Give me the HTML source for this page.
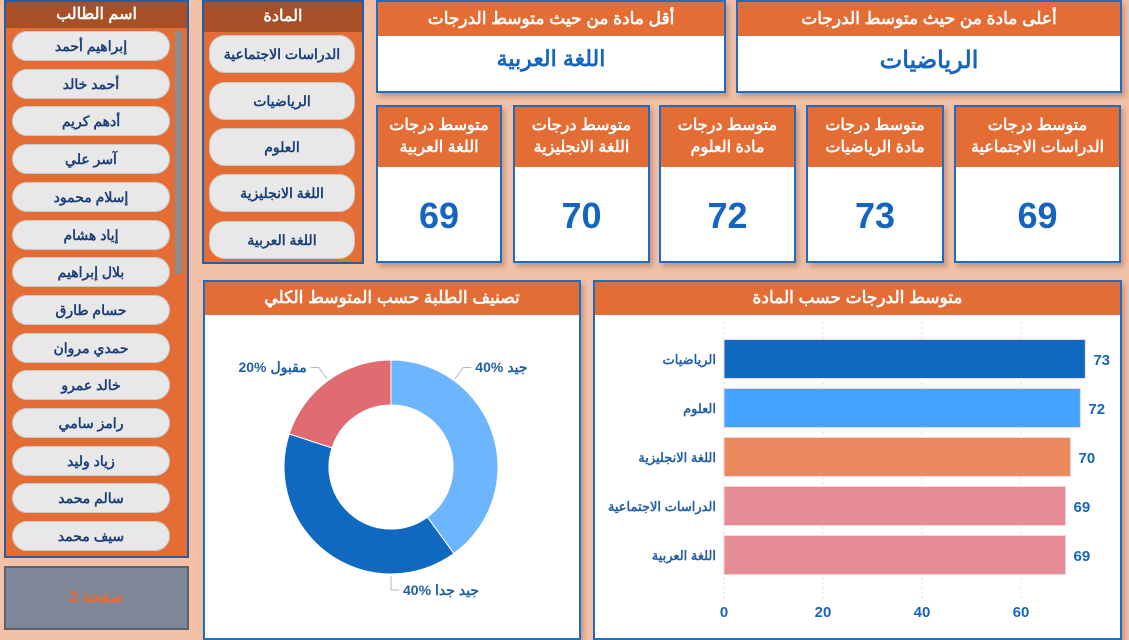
<!DOCTYPE html>
<html><head><meta charset="utf-8"><style>
*{box-sizing:border-box;margin:0;padding:0}
body{width:1129px;height:630px;overflow:hidden;background:#f3c1a8;font-family:"Liberation Sans","Noto Sans CJK SC",sans-serif;position:relative}
.abs{position:absolute}
.panel{position:absolute;background:#e46c35;border:2px solid #1f5fa8}
.hdr{position:absolute;left:0;right:0;top:0;background:#a94f27;color:#fff;font-weight:bold;font-size:16px;text-align:center}
.pill{position:absolute;background:#e8e8e8;border:1px solid #c9c9c9;border-radius:16px;color:#1b3f78;font-weight:bold;font-size:14px;text-align:center;direction:rtl}
.card{position:absolute;background:#fff;border:2px solid #1a6fc4;box-shadow:3px 4px 5px rgba(120,70,50,.35)}
.ch{position:absolute;left:0;right:0;top:0;background:#e46c35;color:#fff;font-weight:bold;text-align:center;direction:rtl}
.num{position:absolute;left:0;right:0;text-align:center;color:#1565c0;font-weight:bold;font-size:36px}
.dl{position:absolute;display:flex;direction:ltr;gap:4px;font-size:14px;font-weight:bold;color:#1f5fa8;white-space:nowrap;line-height:18px}
</style></head><body>

<div class="panel" style="left:4px;top:0;width:185px;height:558px">
 <div class="hdr" style="height:26px;line-height:26px">اسم الطالب</div>
 <div class="abs" style="left:169px;top:29px;width:7px;height:243px;background:#8d8d8d"></div>
 <div id="names"></div>
</div>

<div class="abs" style="left:4px;top:566px;width:185px;height:64px;background:#7f8698;border:2px solid #5c6270;color:#e46c35;font-weight:bold;font-size:16px;text-align:center;line-height:60px">صفحة 2</div>

<div class="panel" style="left:202px;top:0;width:162px;height:264px">
 <div class="hdr" style="height:30px;line-height:30px">المادة</div>
 <div class="pill" style="left:5px;top:33px;width:146px;height:38px;line-height:36px">الدراسات الاجتماعية</div>
 <div class="pill" style="left:5px;top:80px;width:146px;height:38px;line-height:36px">الرياضيات</div>
 <div class="pill" style="left:5px;top:126px;width:146px;height:38px;line-height:36px">العلوم</div>
 <div class="pill" style="left:5px;top:172px;width:146px;height:38px;line-height:36px">اللغة الانجليزية</div>
 <div class="pill" style="left:5px;top:219px;width:146px;height:38px;line-height:36px">اللغة العربية</div>
</div>

<div class="card" style="left:376px;top:0;width:350px;height:93px">
 <div class="ch" style="height:34px;line-height:34px;font-size:17px">أقل مادة من حيث متوسط الدرجات</div>
 <div class="num" style="top:44px;font-size:22px">اللغة العربية</div>
</div>
<div class="card" style="left:736px;top:0;width:386px;height:93px">
 <div class="ch" style="height:34px;line-height:34px;font-size:17px">أعلى مادة من حيث متوسط الدرجات</div>
 <div class="num" style="top:44px;font-size:24px">الرياضيات</div>
</div>

<div class="card" style="left:376px;top:105px;width:126px;height:158px"><div class="ch" style="height:60px;font-size:16px;padding-top:8px;line-height:22px">متوسط درجات<br>اللغة العربية</div><div class="num" style="top:88px">69</div></div>
<div class="card" style="left:513px;top:105px;width:137px;height:158px"><div class="ch" style="height:60px;font-size:16px;padding-top:8px;line-height:22px">متوسط درجات<br>اللغة الانجليزية</div><div class="num" style="top:88px">70</div></div>
<div class="card" style="left:659px;top:105px;width:137px;height:158px"><div class="ch" style="height:60px;font-size:16px;padding-top:8px;line-height:22px">متوسط درجات<br>مادة العلوم</div><div class="num" style="top:88px">72</div></div>
<div class="card" style="left:806px;top:105px;width:138px;height:158px"><div class="ch" style="height:60px;font-size:16px;padding-top:8px;line-height:22px">متوسط درجات<br>مادة الرياضيات</div><div class="num" style="top:88px">73</div></div>
<div class="card" style="left:954px;top:105px;width:167px;height:158px"><div class="ch" style="height:60px;font-size:16px;padding-top:8px;line-height:22px">متوسط درجات<br>الدراسات الاجتماعية</div><div class="num" style="top:88px">69</div></div>

<div class="card" style="left:203px;top:280px;width:378px;height:360px">
 <div class="ch" style="height:33px;line-height:32px;font-size:17px">تصنيف الطلبة حسب المتوسط الكلي</div>
</div>
<div class="card" style="left:593px;top:280px;width:529px;height:360px">
 <div class="ch" style="height:33px;line-height:32px;font-size:17px">متوسط الدرجات حسب المادة</div>
</div>

<svg class="abs" id="chart" style="left:0;top:0" width="1129" height="630"></svg>

<script>
const names=["إبراهيم أحمد","أحمد خالد","أدهم كريم","آسر علي","إسلام محمود","إياد هشام","بلال إبراهيم","حسام طارق","حمدي مروان","خالد عمرو","رامز سامي","زياد وليد","سالم محمد","سيف محمد"];
const nb=document.getElementById('names');
names.forEach((n,i)=>{const d=document.createElement('div');d.className='pill';


d.style.cssText=`left:6px;top:${29+i*37.7}px;width:158px;height:30px;line-height:28px`;d.textContent=n;nb.appendChild(d);});

const NS='http://www.w3.org/2000/svg';const svg=document.getElementById('chart');
function el(t,a,txt){const e=document.createElementNS(NS,t);for(const k in a)e.setAttribute(k,a[k]);if(txt!=null)e.textContent=txt;svg.appendChild(e);return e;}

// Bar chart data
const barCats=["الرياضيات","العلوم","اللغة الانجليزية","الدراسات الاجتماعية","اللغة العربية"];
const barVals=[73,72,70,69,69];
const barColors=["#0f69c0","#42a4ff","#eb8a5e","#e58c94","#e58c94"];
const xTicks=[0,20,40,60];
const xs=v=>724+v*4.95;
const ys=i=>359+i*49;
xTicks.forEach(t=>{const g=el('line',{x1:xs(t),x2:xs(t),y1:322,y2:600,stroke:'#ddd','stroke-dasharray':'2,3'});
const l=el('text',{x:xs(t),y:617,'text-anchor':'middle','font-size':15,'font-weight':'bold',fill:'#1565c0'},t);});
barVals.forEach((v,i)=>{const r=el('rect',{x:xs(0),y:ys(i)-19.5,width:xs(v)-xs(0),height:39,fill:barColors[i],stroke:'#f3d6d6','stroke-width':1});


const t=el('text',{x:xs(v)+8,y:ys(i)+6,'font-size':15,'font-weight':'bold',fill:'#1565c0'},v);
const c=el('text',{x:716,y:ys(i)+5,'text-anchor':'end','font-size':13,'font-weight':'bold',fill:'#1f5fa8'},barCats[i]);});

// Donut data
const pieLabels=["جيد","جيد جدا","مقبول"];
const pieVals=[40,40,20];
const pieColors=["#6cb6ff","#0f69c0","#e06c72"];
const labelFrac=[0.25,0.25,0.5];
const cx=391,cy=467,R=107,r0=62;
let acc=0;const tot=pieVals.reduce((a,b)=>a+b,0);
const pt=(a,rr)=>[cx+rr*Math.sin(a),cy-rr*Math.cos(a)];
pieVals.forEach((v,i)=>{const a0=acc/tot*2*Math.PI;acc+=v;const a1=acc/tot*2*Math.PI;const lg=a1-a0>Math.PI?1:0;
const [x1,y1]=pt(a0,R),[x2,y2]=pt(a1,R),[x3,y3]=pt(a1,r0),[x4,y4]=pt(a0,r0);
const p=el('path',{d:`M${x1},${y1}A${R},${R} 0 ${lg} 1 ${x2},${y2}L${x3},${y3}A${r0},${r0} 0 ${lg} 0 ${x4},${y4}Z`,fill:pieColors[i],stroke:'#fff','stroke-width':1});


const am=a0+(a1-a0)*labelFrac[i];const [lx,ly]=pt(am,R+2);const [ex,ey]=pt(am,R+16);
const right=Math.sin(am)>-0.05;const hx=ex+(right?8:-8);
const ln=el('polyline',{points:`${lx},${ly} ${ex},${ey} ${hx},${ey}`,fill:'none',stroke:'#bbb'});
const d=document.createElement('div');d.className='dl';


const s1=document.createElement('span');s1.textContent=v+'%';
const s2=document.createElement('span');s2.textContent=pieLabels[i];s2.style.direction='rtl';
d.appendChild(s1);d.appendChild(s2);
d.style.top=(ey-9)+'px';
if(right){d.style.left=(hx+4)+'px';}else{d.style.right=(1129-hx+4)+'px';}
document.body.appendChild(d);
});
</script>
</body></html>
